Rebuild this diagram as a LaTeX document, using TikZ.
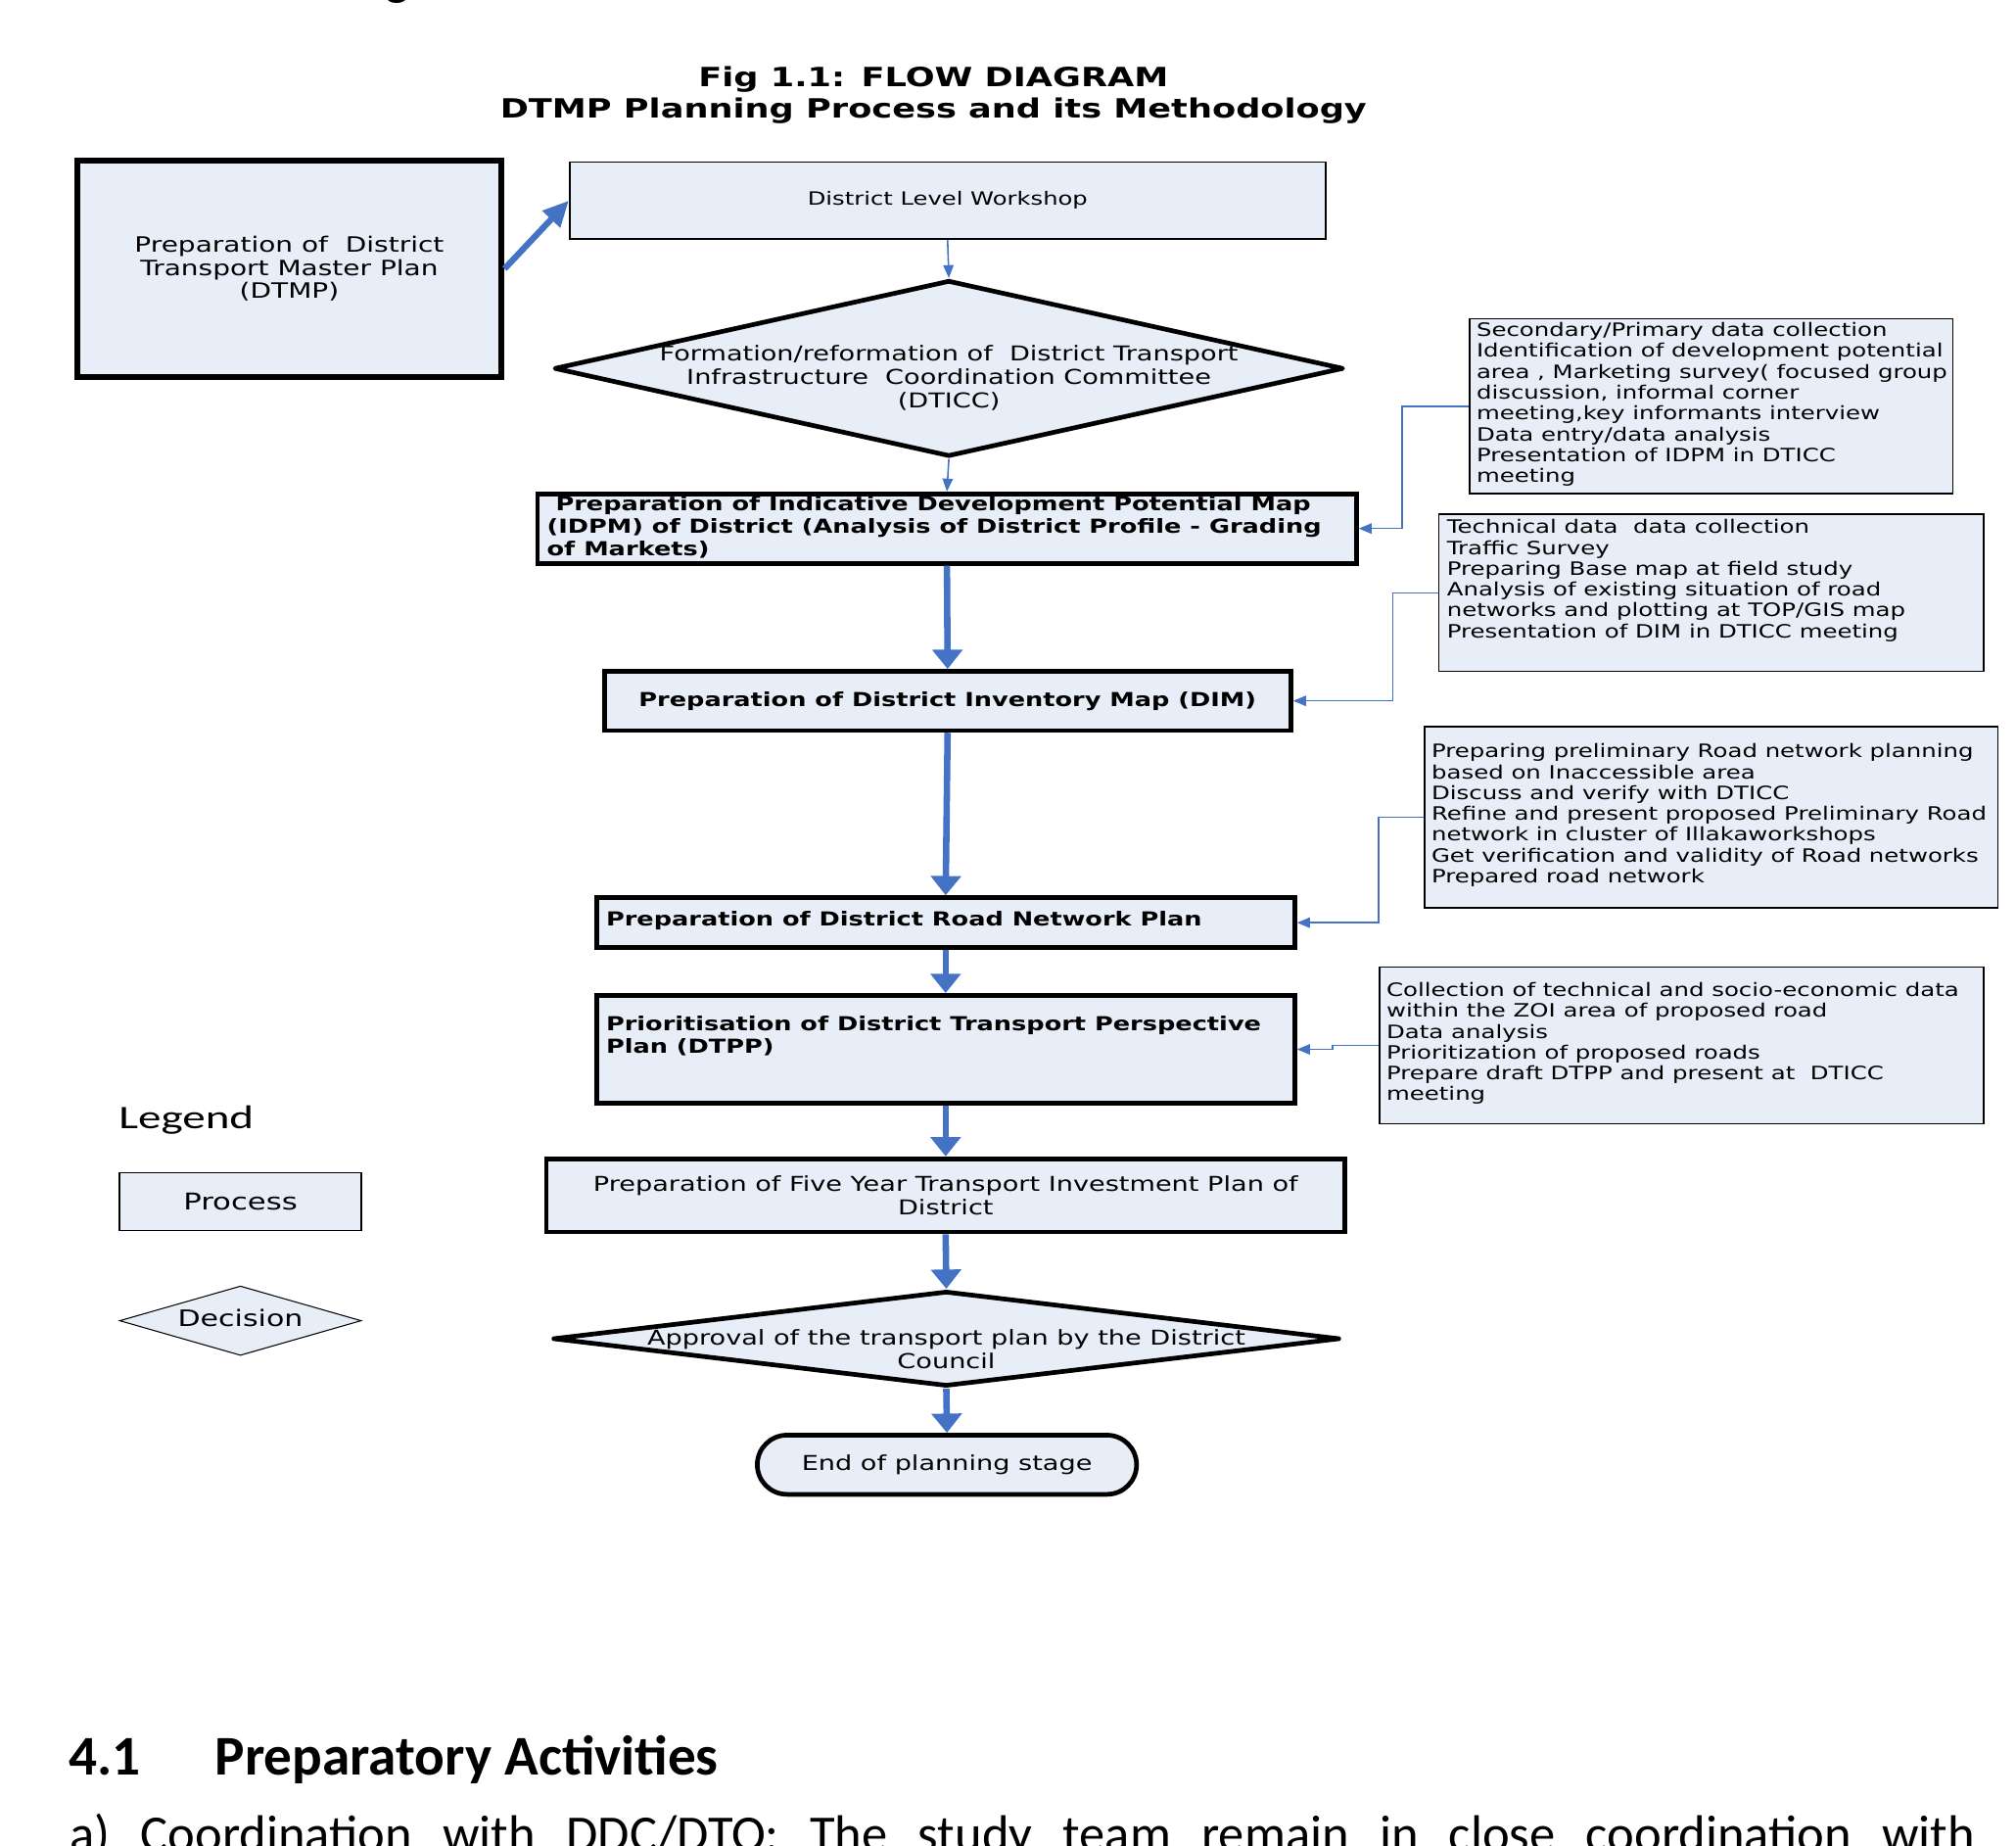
\documentclass[tikz,border=0pt]{standalone}
\usepackage{fontspec}
\usetikzlibrary{arrows.meta,shapes.geometric}
\newfontfamily\dvfont{DejaVu Sans}[FakeStretch=1.3]
\newfontfamily\carlfont{Carlito}
\newfontfamily\carlwide{Carlito}[FakeStretch=1.4]
\definecolor{boxfill}{RGB}{232,238,248}
\definecolor{arrowblue}{RGB}{68,114,196}
\tikzset{
  thickbox/.style={draw=black, line width=1.8pt, fill=boxfill, rectangle, inner sep=0pt},
  thinbox/.style={draw=black, line width=0.6pt, fill=boxfill, rectangle, inner sep=0pt},
  thickdia/.style={draw=black, line width=1.8pt, line join=round, fill=boxfill, diamond, inner sep=0pt},
  thindia/.style={draw=black, line width=0.4pt, fill=boxfill, diamond, inner sep=0pt},
  regtxt/.style={font=\dvfont\fontsize{7.95}{9}\selectfont, align=center, inner sep=0pt},
  boldtxt/.style={font=\dvfont\bfseries\fontsize{7.5}{8.75}\selectfont, align=left, inner sep=0pt},
  infotxt/.style={font=\dvfont\fontsize{7.15}{8.1}\selectfont, align=left, inner sep=0pt, anchor=west},
  flow/.style={draw=arrowblue, line width=2.5pt, -{Triangle[length=7.5pt,width=11.5pt]}},
  slantflow/.style={draw=arrowblue, line width=2.4pt, -{Triangle[length=10pt,width=9pt]}},
  thinflow/.style={draw=arrowblue, line width=0.6pt, -{Triangle[length=5pt,width=4pt]}},
}
\begin{document}
\begin{tikzpicture}[x=0.5pt,y=-0.5pt]
\useasboundingbox (0,0) rectangle (1568,1435);
\clip (0,0) rectangle (1568,1435);
\fill[white] (0,0) rectangle (1568,1435);

% stray descender from the page above
\node[font=\carlfont\fontsize{20}{24}\selectfont, anchor=base west, inner sep=0pt] (topg) at (299,-4) {g};

% title
\node[font=\dvfont\bfseries\fontsize{10.3}{12}\selectfont, align=center, inner sep=0pt] (title) at (726,74)
  {Fig 1.1: FLOW DIAGRAM\\DTMP Planning Process and its Methodology};

% main flow
\node[thickbox, line width=2.4pt, minimum width=165pt, minimum height=84pt, regtxt, font=\dvfont\fontsize{8.2}{9}\selectfont] (dtmp) at (225,209)
  {Preparation of\ \ District\\Transport Master Plan\\(DTMP)};
\node[thinbox, minimum width=294pt, minimum height=30pt, font=\dvfont\fontsize{7.1}{8.1}\selectfont] (workshop) at (737,156)
  {District Level Workshop};

\node[thickdia, minimum width=307pt, minimum height=68.5pt] (dticc) at (738,286.5) {};
\node[regtxt] (dticctxt) at (738,294)
  {Formation/reformation of\ \ District Transport\\Infrastructure\ \ Coordination Committee\\(DTICC)};

\node[thickbox, minimum width=318.5pt, minimum height=27pt] (idpm) at (736.5,411) {};
\node[boldtxt, anchor=west] (idpmtxt) at (425,410)
  {\ Preparation of Indicative Development Potential Map\\(IDPM) of District (Analysis of District Profile - Grading\\of Markets)};

\node[thickbox, minimum width=267pt, minimum height=23pt, boldtxt] (dim) at (737,545)
  {Preparation of District Inventory Map (DIM)};

\node[thickbox, minimum width=271.5pt, minimum height=19.5pt] (road) at (735.5,717.5) {};
\node[boldtxt, anchor=west] (roadtxt) at (471,716) {Preparation of District Road Network Plan};

\node[thickbox, minimum width=271.5pt, minimum height=42pt] (dtpp) at (735.5,816) {};
\node[boldtxt, anchor=west] (dtpptxt) at (471,805.5)
  {Prioritisation of District Transport Perspective\\Plan (DTPP)};

\node[thickbox, minimum width=310.5pt, minimum height=28.5pt, regtxt] (five) at (735.5,929.5)
  {Preparation of Five Year Transport Investment Plan of\\District};

\node[thickdia, minimum width=306pt, minimum height=37pt] (approval) at (736,1041) {};
\node[regtxt] (approvaltxt) at (736,1049)
  {Approval of the transport plan by the District\\Council};

\node[thickbox, rounded corners=11.5pt, minimum width=147.5pt, minimum height=23pt, regtxt] (endn) at (736.5,1139)
  {End of planning stage};

% flow arrows
\draw[slantflow] (dtmp.east) -- (workshop.west);
\draw[thinflow] (workshop.south) -- (dticc.north);
\draw[thinflow] (dticc.south) -- (idpm.north);
\draw[flow] (idpm.south) -- (dim.north);
\draw[flow] (dim.south) -- (road.north);
\draw[flow] (road.south) -- (dtpp.north);
\draw[flow] (dtpp.south) -- (five.north);
\draw[flow] (five.south) -- (approval.north);
\draw[flow] (approval.south) -- (endn.north);

% information boxes
\node[thinbox, minimum width=188pt, minimum height=68pt] (infoA) at (1331,316) {};
\node[infotxt] (infoAtxt) at (1148,314.5)
  {Secondary/Primary data collection\\Identification of development potential\\area , Marketing survey( focused group\\discussion, informal corner\\meeting,key informants interview\\Data entry/data analysis\\Presentation of IDPM in DTICC\\meeting};

\node[thinbox, minimum width=212pt, minimum height=61pt] (infoB) at (1331,461) {};
\node[infotxt] (infoBtxt) at (1125,451.5)
  {Technical data\ \ data collection\\Traffic Survey\\Preparing Base map at field study\\Analysis of existing situation of road\\networks and plotting at TOP/GIS map\\Presentation of DIM in DTICC meeting};

\node[thinbox, minimum width=223pt, minimum height=70.5pt] (infoC) at (1331,635.5) {};
\node[infotxt] (infoCtxt) at (1113,634)
  {Preparing preliminary Road network planning\\based on Inaccessible area\\Discuss and verify with DTICC\\Refine and present proposed Preliminary Road\\network in cluster of Illakaworkshops\\Get verification and validity of Road networks\\Prepared road network};

\node[thinbox, minimum width=235pt, minimum height=61pt] (infoD) at (1308,813) {};
\node[infotxt] (infoDtxt) at (1078,811.5)
  {Collection of technical and socio-economic data\\within the ZOI area of proposed road\\Data analysis\\Prioritization of proposed roads\\Prepare draft DTPP and present at\ \ DTICC\\meeting};

\draw[thinflow] (infoA.west) -- ++(-52,0) |- (idpm.east);
\draw[thinflow] (infoB.west) -- ++(-35,0) |- (dim.east);
\draw[thinflow] (infoC.west) -- ++(-35,0) |- (road.east);
\draw[thinflow] (infoD.west) -- ++(-36,0) |- (dtpp.east);

% legend
\node[font=\carlwide\fontsize{12.8}{15}\selectfont, anchor=west, inner sep=0pt] (legend) at (92,871) {Legend};
\node[thinbox, minimum width=94pt, minimum height=22.5pt, font=\dvfont\fontsize{9}{10}\selectfont] (lproc) at (187,934.5) {Process};
\node[thindia, minimum width=94pt, minimum height=27pt] (ldec) at (187,1027) {};
\node[font=\dvfont\fontsize{8.8}{10}\selectfont, inner sep=0pt] (ldectxt) at (187,1025) {Decision};

% following document text
\node[font=\carlfont\bfseries\fontsize{21.8}{26}\selectfont, anchor=base west, inner sep=0pt] (heading) at (53,1380)
  {\makebox[57pt][l]{4.1}Preparatory Activities};
\node[font=\carlfont\fontsize{20}{24}\selectfont, anchor=base west, inner sep=0pt] (body) at (54,1440)
  {\makebox[741pt][s]{a) Coordination with DDC/DTO: The study team remain in close coordination with}};
\end{tikzpicture}
\end{document}
